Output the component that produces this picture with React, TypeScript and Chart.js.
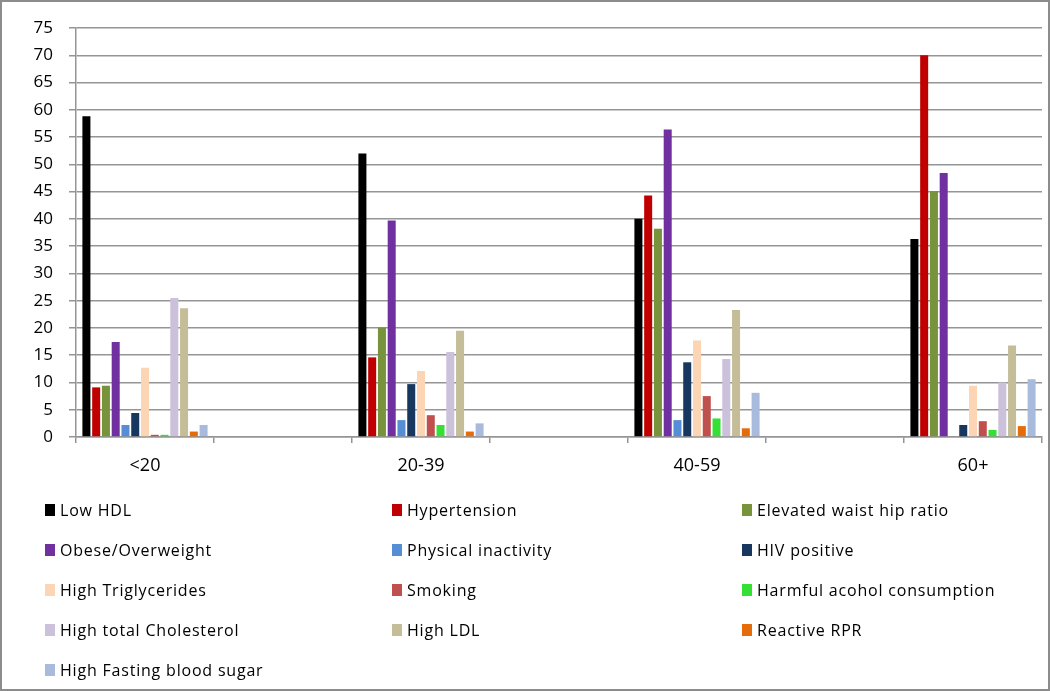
import React, { useEffect, useRef } from "react";
import { Chart, registerables } from "chart.js";

Chart.register(...registerables);

const ageGroups = ["<20", "20-39", "40-59", "60+"];

const seriesNames = [
  "Low HDL",
  "Hypertension",
  "Elevated waist hip ratio",
  "Obese/Overweight",
  "Physical inactivity",
  "HIV positive",
  "High Triglycerides",
  "Smoking",
  "Harmful acohol consumption",
  "High total Cholesterol",
  "High LDL",
  "Reactive RPR",
  "High Fasting blood sugar",
];

const seriesColors = [
  "#000000",
  "#C00000",
  "#77933C",
  "#7030A0",
  "#558ED5",
  "#17375E",
  "#FCD5B5",
  "#C0504D",
  "#33E033",
  "#CCC1DA",
  "#C4BD97",
  "#E46C0A",
  "#A9BBDD",
];

const lowHDL = [58.8, 52.0, 40.0, 36.3];
const hypertension = [9.1, 14.6, 44.3, 70.0];
const waistHip = [9.4, 20.1, 38.2, 45.1];
const obese = [17.4, 39.7, 56.4, 48.4];
const physicalInactivity = [2.2, 3.1, 3.1, 0];
const hivPositive = [4.4, 9.7, 13.7, 2.2];
const triglycerides = [12.7, 12.1, 17.7, 9.4];
const smoking = [0.4, 4.0, 7.5, 2.9];
const alcohol = [0.4, 2.2, 3.4, 1.3];
const totalCholesterol = [25.5, 15.6, 14.3, 10.0];
const ldl = [23.6, 19.5, 23.3, 16.8];
const reactiveRPR = [1.0, 1.0, 1.6, 2.0];
const fastingSugar = [2.2, 2.5, 8.1, 10.6];

const seriesValues = [
  lowHDL,
  hypertension,
  waistHip,
  obese,
  physicalInactivity,
  hivPositive,
  triglycerides,
  smoking,
  alcohol,
  totalCholesterol,
  ldl,
  reactiveRPR,
  fastingSugar,
];

const yTickStep = 5;
const yMax = 75;

// Excel layout: age groups separated by empty categories
const categoryLabels: string[] = [];
ageGroups.forEach((g, i) => {
  categoryLabels.push(g);
  if (i < ageGroups.length - 1) categoryLabels.push("");
});

const spread = (vals: number[]) => {
  const out: (number | null)[] = [];
  vals.forEach((v, i) => {
    out.push(v);
    if (i < vals.length - 1) out.push(null);
  });
  return out;
};

const GRID = "#959595";
const FONT = "'Open Sans', sans-serif";

export default function App() {
  const ref = useRef<HTMLCanvasElement | null>(null);

  useEffect(() => {
    document.body.style.margin = "0";
    const ctx = ref.current;
    if (!ctx) return;
    const chart = new Chart(ctx, {
      type: "bar",
      data: {
        labels: categoryLabels,
        datasets: seriesNames.map((name, i) => ({
          label: name,
          data: spread(seriesValues[i]),
          backgroundColor: seriesColors[i],
          borderWidth: 0,
          categoryPercentage: 0.92,
          barPercentage: 0.82,
        })),
      },
      options: {
        responsive: false,
        animation: false,
        layout: { padding: { left: 0, top: 28, right: 8, bottom: 204 } },
        plugins: {
          legend: { display: false },
          tooltip: { enabled: false },
        },
        scales: {
          x: {
            grid: {
              offset: true,
              drawOnChartArea: false,
              drawTicks: true,
              tickLength: 6,
              color: GRID,
              lineWidth: 1.5,
            },
            border: { display: true, color: GRID, width: 1.5 },
            ticks: {
              color: "#000",
              font: { family: FONT, size: 18 },
              padding: 12,
              maxRotation: 0,
              autoSkip: false,
            },
            afterFit: (s: any) => {
              s.height = 50;
            },
          },
          y: {
            min: 0,
            max: yMax,
            grid: {
              color: GRID,
              lineWidth: 1.5,
              tickLength: 7,
            },
            border: { display: true, color: GRID, width: 1.5 },
            ticks: {
              stepSize: yTickStep,
              color: "#000",
              font: { family: FONT, size: 17 },
              padding: 16,
            },
            afterFit: (s: any) => {
              s.width = 76;
            },
          },
        },
      },
    });
    return () => chart.destroy();
  }, []);

  const colX = [45, 392, 742];
  const rowY = [510, 550, 590, 630, 670];

  return (
    <div
      style={{
        position: "relative",
        width: 1050,
        height: 691,
        boxSizing: "border-box",
        border: "2px solid #8c8c8c",
        background: "#fff",
        overflow: "hidden",
      }}
    >
      <canvas
        ref={ref}
        width={1050}
        height={691}
        style={{ position: "absolute", left: -2, top: -2, width: 1050, height: 691 }}
      />
      {seriesNames.map((name, i) => {
        const col = i % 3;
        const row = Math.floor(i / 3);
        return (
          <div
            key={name}
            style={{
              position: "absolute",
              left: colX[col] - 2,
              top: rowY[row] - 2 - 12,
              height: 24,
              display: "flex",
              alignItems: "center",
              fontFamily: FONT,
              fontSize: 16,
              letterSpacing: "0.8px",
              color: "#000",
              whiteSpace: "nowrap",
            }}
          >
            <span
              style={{
                display: "inline-block",
                width: 10,
                height: 12,
                background: seriesColors[i],
                marginRight: 5,
              }}
            />
            {name}
          </div>
        );
      })}
    </div>
  );
}
